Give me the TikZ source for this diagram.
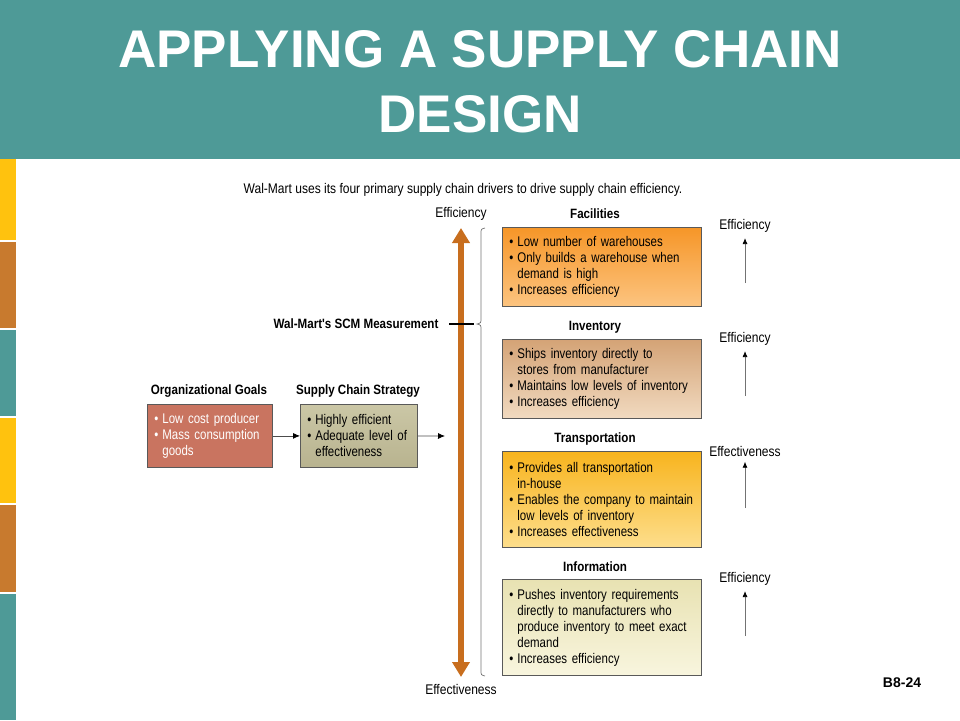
\documentclass[tikz,border=0pt]{standalone}
\usepackage{fontspec}
\setmainfont{Liberation Sans}
\newfontfamily\condfont[FakeStretch=0.82,WordSpace=0.8]{Liberation Sans}
\newfontfamily\labelfont[FakeStretch=0.86]{Liberation Sans}
\usetikzlibrary{%
  arrows,%
  arrows.meta,%
  calc%
}
\definecolor{slideteal}{RGB}{78,154,151}
\definecolor{stripeyellow}{RGB}{255,194,14}
\definecolor{stripeorange}{RGB}{200,122,46}
\definecolor{goalred}{RGB}{201,116,96}
\definecolor{axisorange}{RGB}{200,110,30}
\newcommand{\bl}{\makebox[8pt][l]{\textbullet}}
\newcommand{\cl}{\hspace*{8pt}}
\tikzset{>=latex}
\tikzset{>=latex, boxtitle/.style = {font=\labelfont\bfseries\fontsize{13.5}{15}\selectfont},%
  plainlabel/.style = {font=\labelfont\fontsize{14}{16}\selectfont},%
  drivebox/.style = {draw=black!65, line width=0.8pt, anchor=north west,
    minimum width=199pt, text width=185pt, inner xsep=7pt, inner ysep=0pt,
    align=left, font=\condfont\fontsize{14}{16}\selectfont},%
  stratbox/.style = {draw=black!65, line width=0.8pt, anchor=north west,
    minimum height=63pt, inner xsep=7pt, inner ysep=0pt,
    align=left, font=\condfont\fontsize{14}{16}\selectfont},%
  flowarrow/.style = {draw=black!70, line width=0.8pt, -{Latex[black,length=7pt,width=6pt]}},%
  uparrow/.style = {draw=black!55, line width=0.8pt, -{Latex[black,length=6pt,width=5pt]}}}

\begin{document}
\begin{tikzpicture}[x=1pt,y=-1pt]
  \useasboundingbox (0,0) rectangle (960,720);
  \fill[slideteal] (0,0) rectangle (960,159);
  \foreach \ya/\yb/\c in {159/240/stripeyellow,242/328/stripeorange,330/416/slideteal,
    418/503/stripeyellow,505/592/stripeorange,594/720/slideteal}
    \fill[\c] (0,\ya) rectangle (16,\yb);
  \node[white, align=center, font=\bfseries\fontsize{53}{65}\selectfont] (title)
    at (480,82) {APPLYING A SUPPLY CHAIN\\DESIGN};

  \node[plainlabel] (caption) at (463,190)
    {Wal-Mart uses its four primary supply chain drivers to drive supply chain efficiency.};

  \node[boxtitle] (goalstitle) at (209,391) {Organizational Goals};
  \node[stratbox, fill=goalred, text=white, minimum width=125pt, text width=111pt]
    (goals) at (147,404) {\bl Low cost producer\\\bl Mass consumption\\\cl goods};
  \node[boxtitle] (strattitle) at (358,391) {Supply Chain Strategy};
  \node[stratbox, top color={rgb,255:red,203;green,199;blue,166},
    bottom color={rgb,255:red,184;green,179;blue,143}, minimum width=117pt, text width=103pt]
    (strategy) at (300,404) {\bl Highly efficient\\\bl Adequate level of\\\cl effectiveness};
  \coordinate (stratend) at (445,436);
  \draw[flowarrow] (goals.east) -- (strategy.west);
  \draw[flowarrow] (strategy.east) -- (stratend);

  \coordinate (efftop) at (461,228);
  \coordinate (effbot) at (461,677);
  \draw[axisorange, line width=5.5pt,
    {Triangle[width=17pt,length=15pt]}-{Triangle[width=17pt,length=15pt]}] (effbot) -- (efftop);
  \node[plainlabel] (efflabel) at (461,214) {Efficiency};
  \node[plainlabel] (effectlabel) at (461,689) {Effectiveness};
  \draw[line width=2pt] (449,324) -- (474,324);
  \node[boxtitle, anchor=east] (scm) at (442,324) {Wal-Mart's SCM Measurement};
  \draw[black!55, line width=0.7pt] (485,228) .. controls (481,229) .. (481,234) -- (481,318)
    .. controls (481,323) .. (477,324) .. controls (481,325) .. (481,330) -- (481,670)
    .. controls (481,675) .. (485,676);

  \node[boxtitle] (factitle) at (595,214) {Facilities};
  \node[drivebox, minimum height=79pt, top color={rgb,255:red,246;green,150;blue,40},
    bottom color={rgb,255:red,252;green,196;blue,128}] (fac) at (502,227)
    {\bl Low number of warehouses\\\bl Only builds a warehouse when\\\cl demand is high\\\bl Increases efficiency};
  \node[boxtitle] (invtitle) at (595,327) {Inventory};
  \node[drivebox, minimum height=79pt, top color={rgb,255:red,212;green,163;blue,118},
    bottom color={rgb,255:red,241;green,218;blue,192}] (inv) at (502,339)
    {\bl Ships inventory directly to\\\cl stores from manufacturer\\\bl Maintains low levels of inventory\\\bl Increases efficiency};
  \node[boxtitle] (trantitle) at (595,439) {Transportation};
  \node[drivebox, minimum height=96pt, top color={rgb,255:red,248;green,180;blue,30},
    bottom color={rgb,255:red,253;green,222;blue,140}] (tran) at (502,451)
    {\bl Provides all transportation\\\cl in-house\\\bl Enables the company to maintain\\\cl low levels of inventory\\\bl Increases effectiveness};
  \node[boxtitle] (infotitle) at (595,567) {Information};
  \node[drivebox, minimum height=96pt, top color={rgb,255:red,232;green,226;blue,178},
    bottom color={rgb,255:red,248;green,245;blue,222}] (info) at (502,579)
    {\bl Pushes inventory requirements\\\cl directly to manufacturers who\\\cl produce inventory to meet exact\\\cl demand\\\bl Increases efficiency};

  \node[plainlabel] (faceff) at (745,226) {Efficiency};
  \node[plainlabel] (inveff) at (745,339) {Efficiency};
  \node[plainlabel] (traneff) at (745,451) {Effectiveness};
  \node[plainlabel] (infoeff) at (745,579) {Efficiency};
  \foreach \lab/\yb in {faceff/283,inveff/396,traneff/508,infoeff/636}{
    \coordinate (\lab base) at (745,\yb);
    \draw[uparrow, shorten >=2pt] (\lab base) -- (\lab.south);
  }

  \node[font=\bfseries\fontsize{14}{16}\selectfont] (slidenum) at (902,683) {B8-24};
\end{tikzpicture}
\end{document}
